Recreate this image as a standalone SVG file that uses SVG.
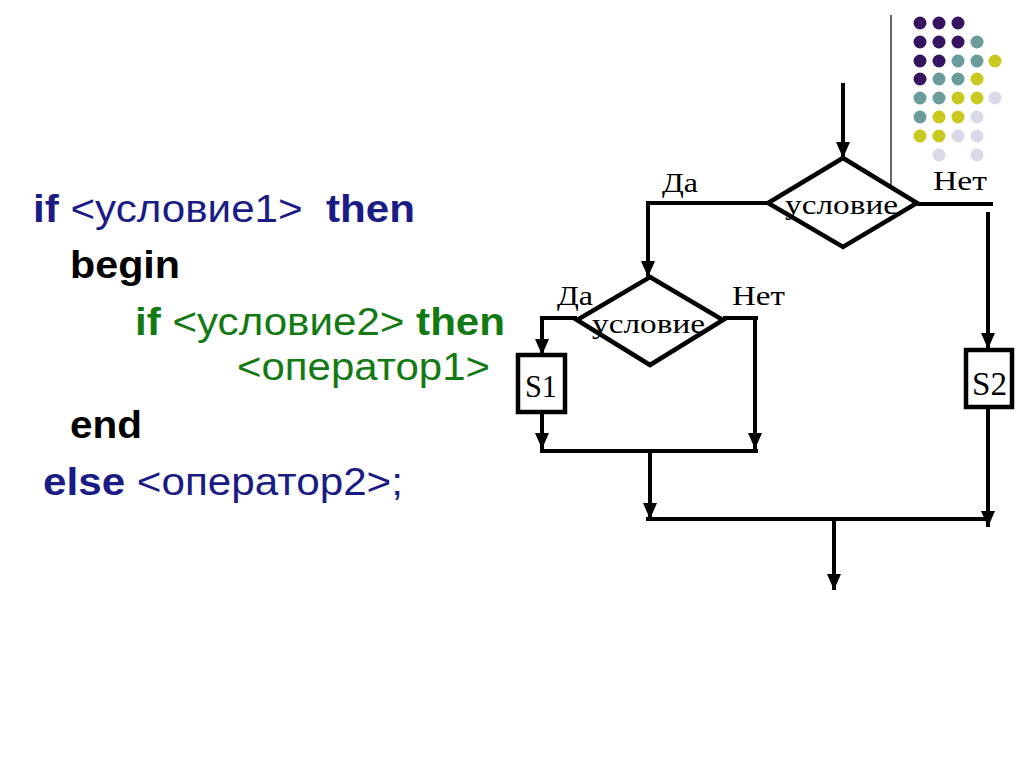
<svg xmlns="http://www.w3.org/2000/svg" width="1024" height="768" viewBox="0 0 1024 768">
<defs>
<style>
.fl{fill:none;stroke:#000;stroke-width:4}
.ar{fill:none;stroke:#000;stroke-width:4;marker-end:url(#ah)}
.shape{fill:#fff;stroke:#000;stroke-width:4.5}
.lbl{font-family:"Liberation Serif","Times New Roman",serif;font-size:28px;fill:#000}
.code{font-family:"Liberation Sans",Arial,sans-serif;font-size:38px}
.b{font-weight:bold}
.navy{fill:#1b1b86}
.green{fill:#137a13}
.blk{fill:#000}
.p{fill:#37145f}.t{fill:#6a9c9c}.y{fill:#c9c91f}.l{fill:#d9d9e8}
</style>
<marker id="ah" viewBox="0 0 16 14" refX="16" refY="7" markerWidth="16" markerHeight="14" markerUnits="userSpaceOnUse" orient="auto">
<path d="M0,0 L16,7 L0,14 Z" fill="#000"/>
</marker>
</defs>
<rect width="1024" height="768" fill="#fff"/>

<g id="decor">
<line x1="891" y1="15" x2="891" y2="185" stroke="#333" stroke-width="1.5"/>
<g>
<circle class="p" cx="920" cy="23" r="6.5"/><circle class="p" cx="939" cy="23" r="6.5"/><circle class="p" cx="958" cy="23" r="6.5"/>
<circle class="p" cx="920" cy="42" r="6.5"/><circle class="p" cx="939" cy="42" r="6.5"/><circle class="p" cx="958" cy="42" r="6.5"/><circle class="t" cx="977" cy="42" r="6.5"/>
<circle class="p" cx="920" cy="61" r="6.5"/><circle class="p" cx="939" cy="61" r="6.5"/><circle class="t" cx="958" cy="61" r="6.5"/><circle class="t" cx="977" cy="61" r="6.5"/><circle class="y" cx="995" cy="61" r="6.5"/>
<circle class="p" cx="920" cy="79" r="6.5"/><circle class="t" cx="939" cy="79" r="6.5"/><circle class="t" cx="958" cy="79" r="6.5"/><circle class="y" cx="977" cy="79" r="6.5"/>
<circle class="t" cx="920" cy="98" r="6.5"/><circle class="t" cx="939" cy="98" r="6.5"/><circle class="y" cx="958" cy="98" r="6.5"/><circle class="y" cx="977" cy="98" r="6.5"/><circle class="l" cx="995" cy="98" r="6.5"/>
<circle class="t" cx="920" cy="117" r="6.5"/><circle class="y" cx="939" cy="117" r="6.5"/><circle class="y" cx="958" cy="117" r="6.5"/><circle class="l" cx="977" cy="117" r="6.5"/>
<circle class="y" cx="920" cy="136" r="6.5"/><circle class="y" cx="939" cy="136" r="6.5"/><circle class="l" cx="958" cy="136" r="6.5"/><circle class="l" cx="977" cy="136" r="6.5"/>
<circle class="l" cx="939" cy="155" r="6.5"/><circle class="l" cx="977" cy="155" r="6.5"/>
</g>
</g>

<g id="code">
<text class="code navy" x="33" y="222" xml:space="preserve" textLength="382" lengthAdjust="spacingAndGlyphs"><tspan class="b">if</tspan> &lt;условие1&gt;  <tspan class="b">then</tspan></text>
<text class="code blk b" x="70" y="278" textLength="110" lengthAdjust="spacingAndGlyphs">begin</text>
<text class="code green" x="135" y="335" textLength="370" lengthAdjust="spacingAndGlyphs"><tspan class="b">if</tspan> &lt;условие2&gt; <tspan class="b">then</tspan></text>
<text class="code green" x="237" y="380" textLength="253" lengthAdjust="spacingAndGlyphs">&lt;оператор1&gt;</text>
<text class="code blk b" x="70" y="438" textLength="72" lengthAdjust="spacingAndGlyphs">end</text>
<text class="code navy" x="43" y="495" textLength="360" lengthAdjust="spacingAndGlyphs"><tspan class="b">else</tspan> &lt;оператор2&gt;;</text>
</g>

<g id="connectors">
<path class="ar" d="M843,83 V158"/>
<path class="ar" d="M768,203 H648 V277"/>
<path class="fl" d="M917,204 H993"/>
<path class="ar" d="M988,212 V349"/>
<path class="ar" d="M988,407 V527"/>
<path class="fl" d="M646,519 H988"/>
<path class="ar" d="M834,519 V590"/>
<path class="ar" d="M577,318 H542 V355"/>
<path class="ar" d="M542,412 V449"/>
<path class="fl" d="M723,318 H758"/>
<path class="ar" d="M755,318 V449"/>
<path class="fl" d="M540,451 H758"/>
<path class="ar" d="M650,451 V519"/>
</g>

<g id="cond1">
<polygon class="shape" points="843,158 917,203 843,247 768,203"/>
<text class="lbl" x="785" y="214" textLength="113" lengthAdjust="spacingAndGlyphs">условие</text>
</g>
<g id="cond2">
<polygon class="shape" points="650,277 723,320 650,365 577,320"/>
<text class="lbl" x="592" y="333" textLength="113" lengthAdjust="spacingAndGlyphs">условие</text>
</g>
<g id="s1">
<rect class="shape" x="518" y="355" width="47" height="57"/>
<text class="lbl" x="525" y="397" style="font-size:32px" textLength="32" lengthAdjust="spacingAndGlyphs">S1</text>
</g>
<g id="s2">
<rect class="shape" x="966" y="350" width="46" height="57"/>
<text class="lbl" x="972" y="395" style="font-size:34px" textLength="35" lengthAdjust="spacingAndGlyphs">S2</text>
</g>
<g id="labels">
<text class="lbl" x="662" y="192" textLength="36" lengthAdjust="spacingAndGlyphs">Да</text>
<text class="lbl" x="933" y="190" textLength="54" lengthAdjust="spacingAndGlyphs">Нет</text>
<text class="lbl" x="557" y="305" textLength="36" lengthAdjust="spacingAndGlyphs">Да</text>
<text class="lbl" x="732" y="305" textLength="53" lengthAdjust="spacingAndGlyphs">Нет</text>
</g>
</svg>
